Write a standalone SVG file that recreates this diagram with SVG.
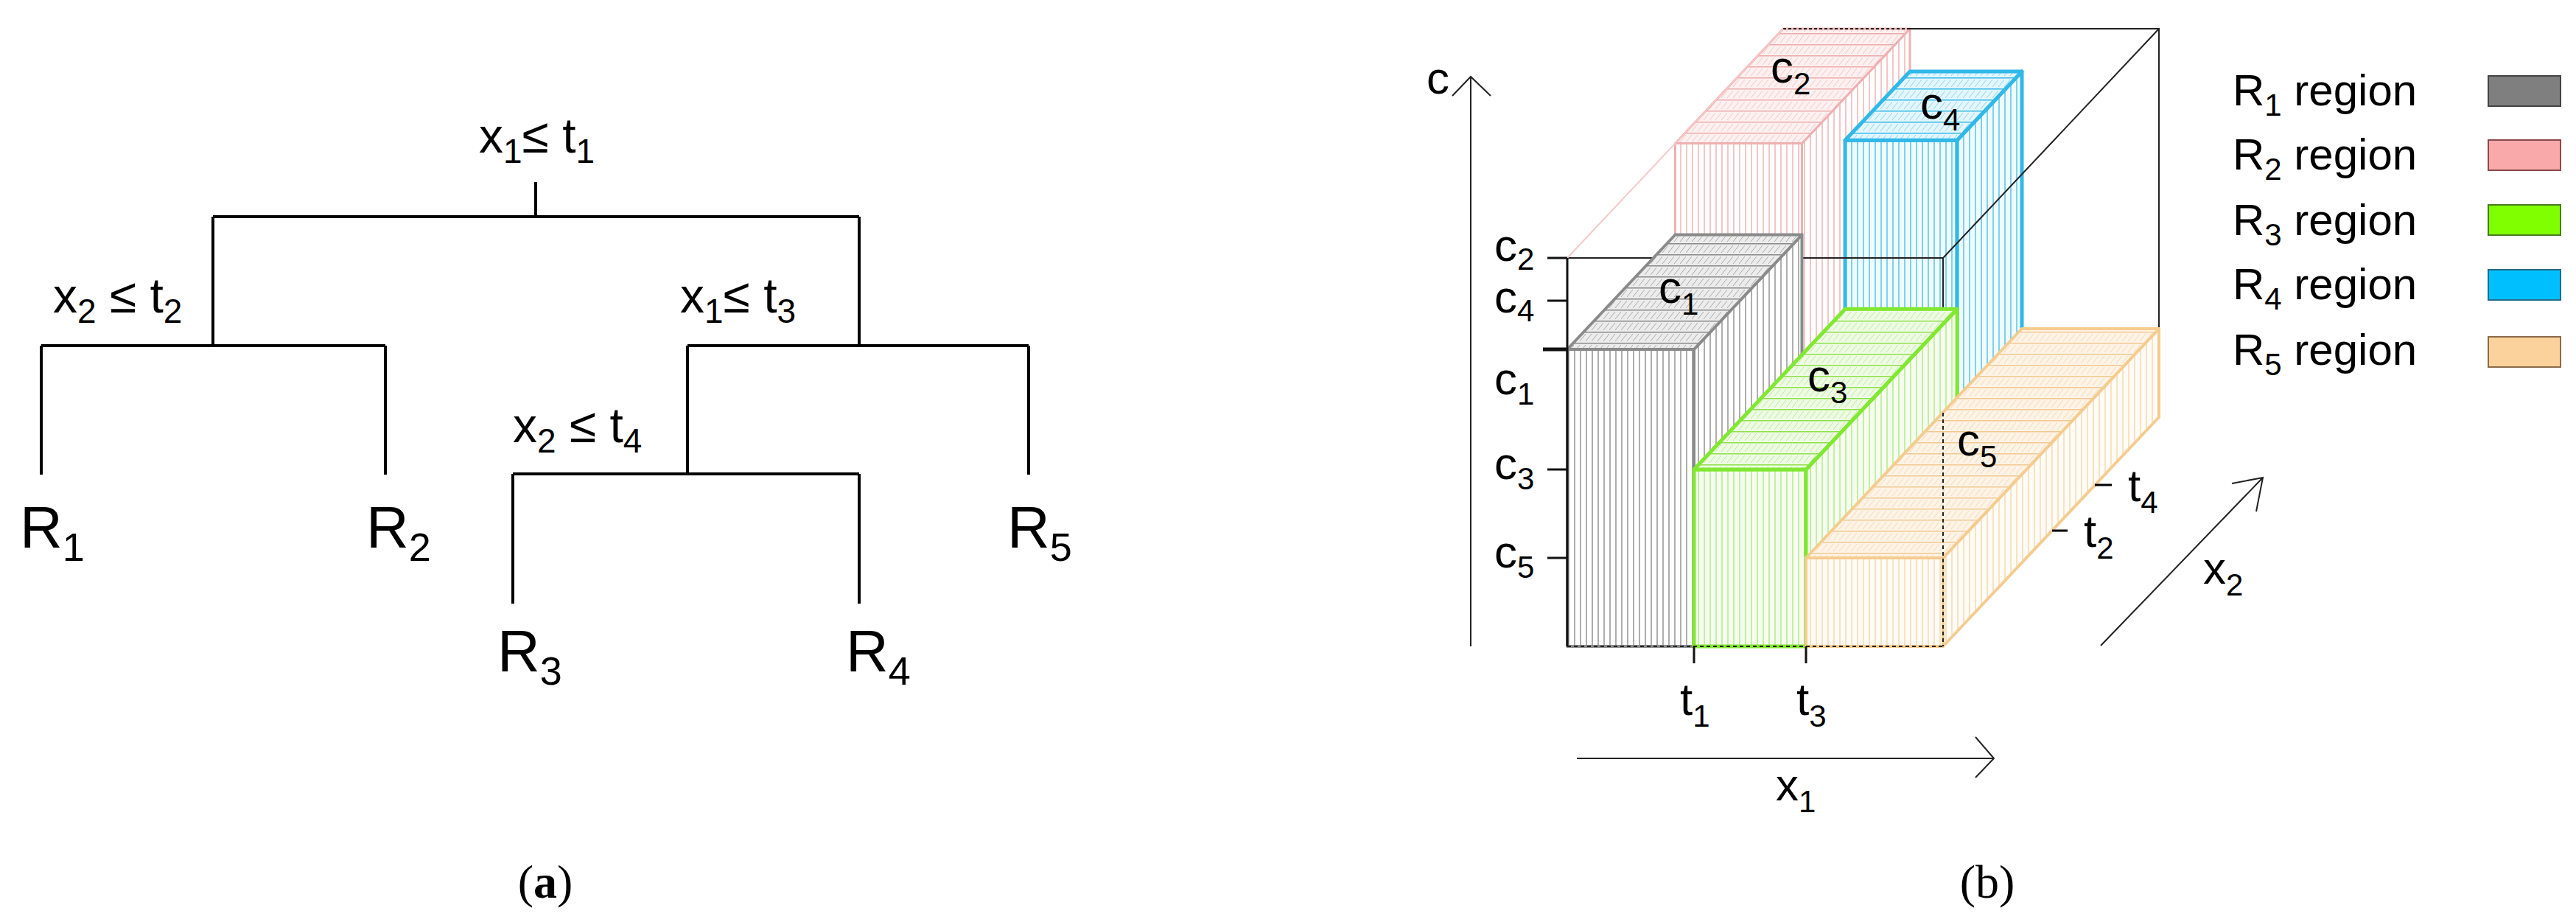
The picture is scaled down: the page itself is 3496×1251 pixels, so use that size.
<svg xmlns="http://www.w3.org/2000/svg" width="3496" height="1251" viewBox="0 0 3496 1251">
<style>
.t{font-family:"Liberation Sans Narrow","Liberation Sans",Arial,sans-serif;fill:#000}
.tr{stroke:#000;stroke-width:4;fill:none}
.ax{stroke:#222;stroke-width:2;fill:none}
.cap{font-family:"Liberation Serif","Times New Roman",serif;font-size:64px;fill:#000}
</style>
<defs>
<pattern id="v1" width="8" height="20" patternUnits="userSpaceOnUse"><rect width="8" height="20" fill="#fff"/><line x1="1" y1="0" x2="1" y2="20" stroke="#9a9a9a" stroke-width="1.6"/></pattern>
<pattern id="v2" width="8" height="20" patternUnits="userSpaceOnUse"><rect width="8" height="20" fill="#fff"/><line x1="1" y1="0" x2="1" y2="20" stroke="#f2b8b8" stroke-width="1.6"/></pattern>
<pattern id="v3" width="8" height="20" patternUnits="userSpaceOnUse"><rect width="8" height="20" fill="#f6fdf0"/><line x1="1" y1="0" x2="1" y2="20" stroke="#b8ec90" stroke-width="1.6"/></pattern>
<pattern id="v4" width="8" height="20" patternUnits="userSpaceOnUse"><rect width="8" height="20" fill="#f0fbff"/><line x1="1" y1="0" x2="1" y2="20" stroke="#60c8ec" stroke-width="1.6"/></pattern>
<pattern id="v5" width="8" height="20" patternUnits="userSpaceOnUse"><rect width="8" height="20" fill="#fffbf5"/><line x1="1" y1="0" x2="1" y2="20" stroke="#f6dcb8" stroke-width="1.6"/></pattern>
<pattern id="h1" width="8" height="15" patternUnits="userSpaceOnUse"><rect width="8" height="15" fill="#ececec"/><path d="M0 13L8 3" stroke="#a8a8a8" stroke-width="1"/><line x1="0" y1="0.5" x2="8" y2="0.5" stroke="#888" stroke-width="2"/></pattern>
<pattern id="h2" width="8" height="15" patternUnits="userSpaceOnUse"><rect width="8" height="15" fill="#fdf0f0"/><path d="M0 13L8 3" stroke="#f4c4c4" stroke-width="1"/><line x1="0" y1="0.5" x2="8" y2="0.5" stroke="#eeaaaa" stroke-width="2"/></pattern>
<pattern id="h3" width="8" height="15" patternUnits="userSpaceOnUse"><rect width="8" height="15" fill="#eefbe4"/><path d="M0 13L8 3" stroke="#bdea98" stroke-width="1"/><line x1="0" y1="0.5" x2="8" y2="0.5" stroke="#8ee048" stroke-width="2"/></pattern>
<pattern id="h4" width="8" height="15" patternUnits="userSpaceOnUse"><rect width="8" height="15" fill="#e4f6fd"/><path d="M0 13L8 3" stroke="#88d4f0" stroke-width="1"/><line x1="0" y1="0.5" x2="8" y2="0.5" stroke="#30b8e8" stroke-width="2"/></pattern>
<pattern id="h5" width="8" height="15" patternUnits="userSpaceOnUse"><rect width="8" height="15" fill="#fdf3e6"/><path d="M0 13L8 3" stroke="#f6d8b0" stroke-width="1"/><line x1="0" y1="0.5" x2="8" y2="0.5" stroke="#f2c890" stroke-width="2"/></pattern>
</defs>

<!-- (a) tree -->
<g id="connectors">
<path class="tr" d="M727 247V294M289 294H1166M289 294V469M1166 294V469M56 469H523M56 469V644M523 469V644M933 469H1396M933 469V643M1396 469V644M696 643H1166M696 643V819M1166 643V819"/>
</g>
<g id="n_root"><text class="t" x="650" y="207" font-size="66">x<tspan font-size="46" dy="14">1</tspan><tspan dy="-14">≤ t</tspan><tspan font-size="46" dy="14">1</tspan></text></g>
<g id="n_x2t2"><text class="t" x="72" y="424" font-size="66">x<tspan font-size="46" dy="14">2</tspan><tspan dy="-14"> ≤ t</tspan><tspan font-size="46" dy="14">2</tspan></text></g>
<g id="n_x1t3"><text class="t" x="923" y="424" font-size="66">x<tspan font-size="46" dy="14">1</tspan><tspan dy="-14">≤ t</tspan><tspan font-size="46" dy="14">3</tspan></text></g>
<g id="n_x2t4"><text class="t" x="696" y="600" font-size="66">x<tspan font-size="46" dy="14">2</tspan><tspan dy="-14"> ≤ t</tspan><tspan font-size="46" dy="14">4</tspan></text></g>
<g id="n_R1"><text class="t" x="27" y="743" font-size="80">R<tspan font-size="54" dy="18">1</tspan></text></g>
<g id="n_R2"><text class="t" x="497" y="743" font-size="80">R<tspan font-size="54" dy="18">2</tspan></text></g>
<g id="n_R5"><text class="t" x="1367" y="743" font-size="80">R<tspan font-size="54" dy="18">5</tspan></text></g>
<g id="n_R3"><text class="t" x="675" y="911" font-size="80">R<tspan font-size="54" dy="18">3</tspan></text></g>
<g id="n_R4"><text class="t" x="1148" y="911" font-size="80">R<tspan font-size="54" dy="18">4</tspan></text></g>
<text class="cap" x="740" y="1218" text-anchor="middle">(<tspan font-weight="bold">a</tspan>)</text>

<!-- (b) 3D plot -->
<g id="R2box" stroke="#f0b0b0" stroke-width="3" stroke-linejoin="round">
<polygon points="2273.5,194.5 2445.5,194.5 2445.5,721.5 2273.5,721.5" fill="url(#v2)"/>
<polygon points="2445.5,194.5 2592,39 2592,566 2445.5,721.5" fill="url(#v2)"/>
<polygon points="2273.5,194.5 2445.5,194.5 2592,39 2420,39" fill="url(#h2)"/>
</g>
<g id="R4box" stroke="#30b8e8" stroke-width="5" stroke-linejoin="round">
<polygon points="2504.1,190.3 2656.1,190.3 2656.1,659.3 2504.1,659.3" fill="url(#v4)"/>
<polygon points="2656.1,190.3 2744,97 2744,566 2656.1,659.3" fill="url(#v4)"/>
<polygon points="2504.1,190.3 2656.1,190.3 2744,97 2592,97" fill="url(#h4)"/>
</g>
<g id="frame">
<path class="ax" stroke="#777" d="M2127 350H2637M2637 350V560M2637 350L2930 39M2592 39H2930V566"/>
<path class="ax" stroke="#444" stroke-dasharray="4 3" d="M2420 39H2592"/>
<path stroke="#f5c8c8" stroke-width="2" d="M2127 350L2420 39"/>
</g>
<g id="R1box" stroke="#8a8a8a" stroke-width="4" stroke-linejoin="round">
<polygon points="2127,474 2299,474 2299,877 2127,877" fill="url(#v1)"/>
<polygon points="2299,474 2445.5,318.5 2445.5,721.5 2299,877" fill="url(#v1)"/>
<polygon points="2127,474 2299,474 2445.5,318.5 2273.5,318.5" fill="url(#h1)"/>
</g>
<g id="R3box" stroke="#80e830" stroke-width="5" stroke-linejoin="round">
<polygon points="2299,637 2451,637 2451,877 2299,877" fill="url(#v3)"/>
<polygon points="2451,637 2656.1,419.3 2656.1,659.3 2451,877" fill="url(#v3)"/>
<polygon points="2299,637 2451,637 2656.1,419.3 2504.1,419.3" fill="url(#h3)"/>
</g>
<g id="R5box" stroke="#f5cc90" stroke-width="4" stroke-linejoin="round">
<polygon points="2451,757 2637,757 2637,877 2451,877" fill="url(#v5)"/>
<polygon points="2637,757 2930,446 2930,566 2637,877" fill="url(#v5)"/>
<polygon points="2451,757 2637,757 2930,446 2744,446" fill="url(#h5)"/>
</g>
<g id="frame2">
<path class="ax" stroke-dasharray="5 4" d="M2637 560V877M2127 877H2637"/>
<path stroke="#111" stroke-width="3" d="M2127 350V877M2100 350H2127M2100 408H2127M2100 637H2127M2100 757H2127M2299 877V900M2451 877V900"/>
<path stroke="#111" stroke-width="5" d="M2094 474H2127"/>
</g>
<g id="axes">
<path class="ax" d="M1996 877V104M1971 130L1996 104L2023 130"/>
<path class="ax" d="M2140 1029H2706M2681 1000L2706 1029L2681 1055"/>
<path class="ax" d="M2851 876L3071 648M3029 656L3071 648L3062 694"/>
<path stroke="#000" stroke-width="3" d="M2843 658H2866M2785 720H2806"/>
</g>
<g id="plotlabels" font-size="62">
<text class="t" x="1936" y="127">c</text>
<text class="t" x="2028" y="354">c<tspan font-size="42" dy="12">2</tspan></text>
<text class="t" x="2028" y="424">c<tspan font-size="42" dy="12">4</tspan></text>
<text class="t" x="2028" y="535">c<tspan font-size="42" dy="14">1</tspan></text>
<text class="t" x="2028" y="650">c<tspan font-size="42" dy="14">3</tspan></text>
<text class="t" x="2028" y="770">c<tspan font-size="42" dy="14">5</tspan></text>
<text class="t" x="2403" y="112">c<tspan font-size="42" dy="16">2</tspan></text>
<text class="t" x="2606" y="161">c<tspan font-size="42" dy="16">4</tspan></text>
<text class="t" x="2251" y="411">c<tspan font-size="42" dy="16">1</tspan></text>
<text class="t" x="2453" y="531">c<tspan font-size="42" dy="16">3</tspan></text>
<text class="t" x="2656" y="618">c<tspan font-size="42" dy="16">5</tspan></text>
<text class="t" x="2280" y="970">t<tspan font-size="42" dy="16">1</tspan></text>
<text class="t" x="2438" y="970">t<tspan font-size="42" dy="16">3</tspan></text>
<text class="t" x="2888" y="680">t<tspan font-size="42" dy="16">4</tspan></text>
<text class="t" x="2828" y="742">t<tspan font-size="42" dy="16">2</tspan></text>
<text class="t" x="2410" y="1086">x<tspan font-size="42" dy="16">1</tspan></text>
<text class="t" x="2990" y="792">x<tspan font-size="42" dy="16">2</tspan></text>
</g>
<g id="legend" font-size="60">
<text class="t" x="3030" y="143">R<tspan font-size="42" dy="14">1</tspan><tspan dy="-14"> region</tspan></text>
<text class="t" x="3030" y="230">R<tspan font-size="42" dy="14">2</tspan><tspan dy="-14"> region</tspan></text>
<text class="t" x="3030" y="319">R<tspan font-size="42" dy="14">3</tspan><tspan dy="-14"> region</tspan></text>
<text class="t" x="3030" y="406">R<tspan font-size="42" dy="14">4</tspan><tspan dy="-14"> region</tspan></text>
<text class="t" x="3030" y="495">R<tspan font-size="42" dy="14">5</tspan><tspan dy="-14"> region</tspan></text>
<rect x="3377" y="103" width="98" height="41" fill="#7f7f7f" stroke="#444" stroke-width="2"/>
<rect x="3377" y="190" width="98" height="41" fill="#f9a9a9" stroke="#8a4a4a" stroke-width="2"/>
<rect x="3377" y="278" width="98" height="41" fill="#7fff00" stroke="#4a7a20" stroke-width="2"/>
<rect x="3377" y="366" width="98" height="41" fill="#00bfff" stroke="#206a8a" stroke-width="2"/>
<rect x="3377" y="457" width="98" height="41" fill="#fcd29c" stroke="#8a6a4a" stroke-width="2"/>
</g>
<text class="cap" x="2697" y="1218" text-anchor="middle">(b)</text>
</svg>
